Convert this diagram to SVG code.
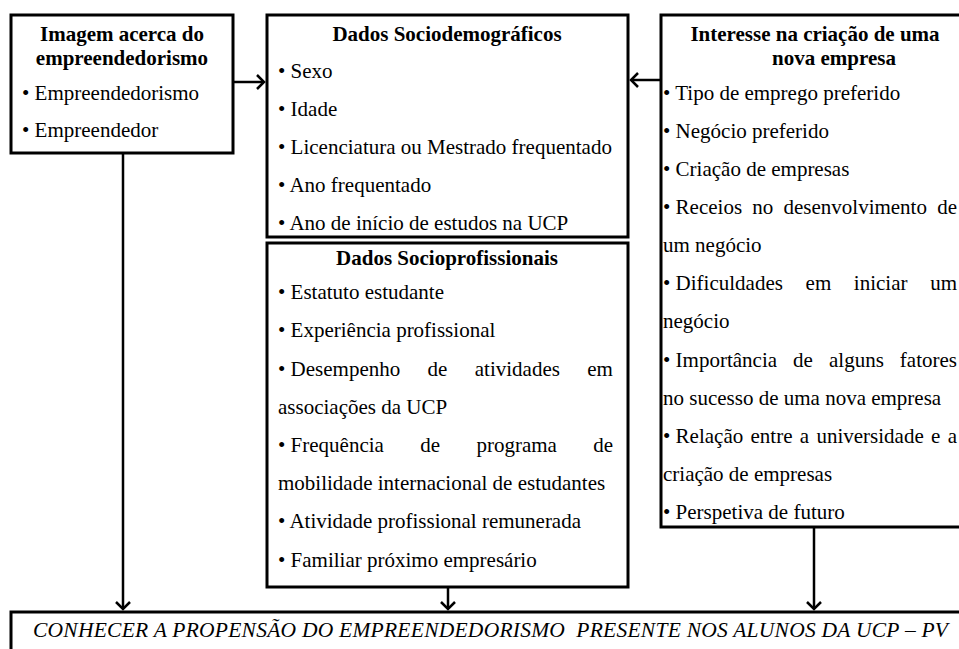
<svg xmlns="http://www.w3.org/2000/svg" width="959" height="649" viewBox="0 0 959 649">
<defs>
<style>
.box{fill:#fff;stroke:#000;stroke-width:3}
.conn{stroke:#000;stroke-width:2.5;fill:none}
.node{font-family:"Liberation Serif","Times New Roman",serif;font-size:21px;fill:#000}
.h{font-weight:bold;text-anchor:middle}
.i{font-style:italic;font-size:21.5px}
</style>
<marker id="arr" markerUnits="userSpaceOnUse" viewBox="-10 -10 20 20" markerWidth="20" markerHeight="20" refX="0" refY="0" orient="auto">
<path d="M-7,-7 L0,0 L-7,7" fill="none" stroke="#000" stroke-width="2.5"/>
</marker>
</defs>
<rect width="959" height="649" fill="#fff"/>

<g id="connectors">
<line class="conn" x1="233" y1="82" x2="264" y2="82" marker-end="url(#arr)"/>
<line class="conn" x1="661" y1="80" x2="631" y2="80" marker-end="url(#arr)"/>
<line class="conn" x1="123" y1="153" x2="123" y2="609" marker-end="url(#arr)"/>
<line class="conn" x1="448" y1="587" x2="448" y2="609" marker-end="url(#arr)"/>
<line class="conn" x1="814" y1="527" x2="814" y2="609" marker-end="url(#arr)"/>
</g>

<g id="imagem" class="node">
<rect class="box" x="11" y="15" width="222" height="138"/>
<text class="h" x="122" y="41">Imagem acerca do</text>
<text class="h" x="122" y="65">empreendedorismo</text>
<text x="22" y="100">• Empreendedorismo</text>
<text x="22" y="137">• Empreendedor</text>
</g>

<g id="sociodemograficos" class="node">
<rect class="box" x="267" y="15" width="361" height="222"/>
<text class="h" x="447" y="41">Dados Sociodemográficos</text>
<text x="278" y="78">• Sexo</text>
<text x="278" y="116">• Idade</text>
<text x="278" y="154">• Licenciatura ou Mestrado frequentado</text>
<text x="278" y="192">• Ano frequentado</text>
<text x="278" y="230">• Ano de início de estudos na UCP</text>
</g>

<g id="socioprofissionais" class="node">
<rect class="box" x="267" y="243" width="361" height="344"/>
<text class="h" x="447" y="265">Dados Socioprofissionais</text>
<text x="278" y="299">• Estatuto estudante</text>
<text x="278" y="337">• Experiência profissional</text>
<text x="278" y="376">• <tspan word-spacing="22.1">Desempenho de atividades em</tspan></text>
<text x="278" y="414">associações da UCP</text>
<text x="278" y="452">• <tspan word-spacing="31.1">Frequência de programa de</tspan></text>
<text x="278" y="490">mobilidade internacional de estudantes</text>
<text x="278" y="528">• Atividade profissional remunerada</text>
<text x="278" y="567">• Familiar próximo empresário</text>
</g>

<g id="interesse" class="node">
<rect class="box" x="661" y="15" width="320" height="512"/>
<text class="h" x="815" y="41">Interesse na criação de uma</text>
<text class="h" x="834" y="65">nova empresa</text>
<text x="663" y="100">• Tipo de emprego preferido</text>
<text x="663" y="138">• Negócio preferido</text>
<text x="663" y="176">• Criação de empresas</text>
<text x="663" y="214">• <tspan word-spacing="4.95">Receios no desenvolvimento de</tspan></text>
<text x="663" y="252">um negócio</text>
<text x="663" y="290">• <tspan word-spacing="17.4">Dificuldades em iniciar um</tspan></text>
<text x="663" y="328">negócio</text>
<text x="663" y="367">• <tspan word-spacing="10.8">Importância de alguns fatores</tspan></text>
<text x="663" y="405">no sucesso de uma nova empresa</text>
<text x="663" y="443">• <tspan word-spacing="2.05">Relação entre a universidade e a</tspan></text>
<text x="663" y="481">criação de empresas</text>
<text x="663" y="519">• Perspetiva de futuro</text>
</g>

<g id="objetivo" class="node">
<rect class="box" x="11" y="612" width="980" height="60"/>
<text class="i" x="33" y="637" xml:space="preserve" textLength="915" lengthAdjust="spacing">CONHECER A PROPENSÃO DO EMPREENDEDORISMO  PRESENTE NOS ALUNOS DA UCP – PV</text>
</g>
</svg>
